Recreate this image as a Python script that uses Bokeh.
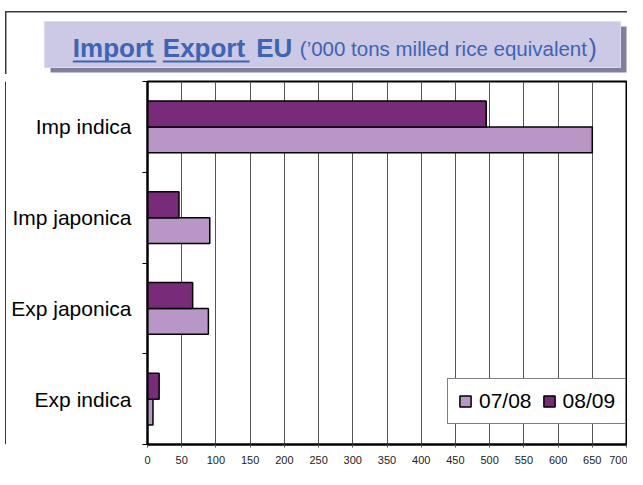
from bokeh.plotting import figure
from bokeh.layouts import column, row
from bokeh.models import Range1d, FixedTicker, Legend, LegendItem, ColumnDataSource
from bokeh.transform import dodge
from bokeh.core.properties import value
from bokeh.embed import file_html
from bokeh.resources import INLINE

# ---- data ----
categories = ["Imp indica", "Imp japonica", "Exp japonica", "Exp indica"]
series_names = ["07/08", "08/09"]
values_0708 = [650, 91, 89, 8]
values_0809 = [495, 46, 66, 17]
x_ticks = [0, 50, 100, 150, 200, 250, 300, 350, 400, 450, 500, 550, 600, 650, 700]

LIGHT = "#B896C7"
DARK = "#772B78"
TITLE_BLUE = "#3D64B5"
FRAME = "#3a3a3a"
FONT = "Liberation Sans"

W, H = 627, 469
TH = 74          # height of title strip
SW = 6           # width of left strip
TEXT_Y = 47.7    # text anchor (baseline) in title strip

# ---------------- title strip ----------------
t = figure(width=W, height=TH, output_backend="svg", toolbar_location=None,
           x_range=Range1d(0, W), y_range=Range1d(TH, 0),
           x_axis_location=None, y_axis_location=None, min_border=0)
t.outline_line_color = None
t.grid.grid_line_color = None
t.background_fill_color = "white"
t.border_fill_color = "white"
# outer frame (top + left edges)
t.quad(left=5, right=W, top=10.5, bottom=12, fill_color=FRAME, line_color=None)
t.quad(left=4.5, right=6, top=10.5, bottom=TH, fill_color=FRAME, line_color=None)
# title box with shadow
t.quad(left=50, right=626, top=26, bottom=72, fill_color="#807FA0", line_color=None)
t.quad(left=44, right=620, top=21, bottom=67, fill_color="#CBC9E3", line_color="#DCDAEE",
       line_width=1)
# underlines
t.quad(left=72.3, right=155.7, top=60, bottom=62, fill_color=TITLE_BLUE, line_color=None)
t.quad(left=162.3, right=249, top=60, bottom=62, fill_color=TITLE_BLUE, line_color=None)


def ttext(x, s, size, style):
    t.text(x=[x], y=[TEXT_Y], text=[s], text_font=value(FONT), text_font_size=size,
           text_font_style=style, text_color=TITLE_BLUE, text_baseline="alphabetic",
           text_align="left")


ttext(72.3, "Import", "26px", "bold")
ttext(162.3, "Export", "26px", "bold")
ttext(255.7, "EU", "26px", "bold")
ttext(299.3, "(\u2019000 tons milled rice equivalent", "20.5px", "normal")
ttext(588, ")", "25px", "normal")

# ---------------- left strip (outer frame line) ----------------
s = figure(width=SW, height=H - TH, output_backend="svg", toolbar_location=None,
           x_range=Range1d(0, SW), y_range=Range1d(H - TH, 0),
           x_axis_location=None, y_axis_location=None, min_border=0)
s.outline_line_color = None
s.grid.grid_line_color = None
s.background_fill_color = "white"
s.border_fill_color = "white"
s.quad(left=4.5, right=6, top=0, bottom=H - TH, fill_color=FRAME, line_color=None)

# ---------------- chart ----------------
n = len(categories)
ypos = [n - 0.5 - i for i in range(n)]
src = ColumnDataSource(dict(cat=categories, y=ypos, v0708=values_0708, v0809=values_0809))

p = figure(width=W - SW, height=H - TH, output_backend="svg", toolbar_location=None,
           x_range=Range1d(x_ticks[0], x_ticks[-1]), y_range=Range1d(0, n),
           min_border_left=147 - SW, min_border_right=1, min_border_top=81 - TH,
           min_border_bottom=25)
p.background_fill_color = "white"
p.border_fill_color = "white"
p.outline_line_color = "black"
p.outline_line_width = 2

bar_h = 0.284
r1 = p.hbar(y=dodge("y", -bar_h / 2), right="v0708", left=0, height=bar_h, source=src,
            fill_color=LIGHT, line_color="black", line_width=1.5)
r2 = p.hbar(y=dodge("y", bar_h / 2), right="v0809", left=0, height=bar_h, source=src,
            fill_color=DARK, line_color="black", line_width=1.5)

# x axis
p.xaxis.ticker = FixedTicker(ticks=x_ticks)
p.xaxis.minor_tick_line_color = None
p.xaxis.major_tick_out = 3
p.xaxis.major_tick_in = 0
p.xaxis.major_tick_line_color = "#555555"
p.xaxis.axis_line_color = "black"
p.xaxis.axis_line_width = 2
p.xaxis.major_label_text_font = FONT
p.xaxis.major_label_text_font_size = "11px"
p.xaxis.major_label_text_color = "#222222"
p.xaxis.major_label_standoff = 8

# y axis : labels at category centres, tick marks at category boundaries
p.yaxis.ticker = FixedTicker(ticks=ypos, minor_ticks=list(range(n + 1)))
p.yaxis.major_label_overrides = {y: c for y, c in zip(ypos, categories)}
p.yaxis.major_tick_line_color = None
p.yaxis.major_tick_out = 0
p.yaxis.major_tick_in = 0
p.yaxis.minor_tick_out = 5
p.yaxis.minor_tick_in = 0
p.yaxis.minor_tick_line_color = "black"
p.yaxis.axis_line_color = "black"
p.yaxis.axis_line_width = 2
p.yaxis.major_label_text_font = FONT
p.yaxis.major_label_text_font_size = "21px"
p.yaxis.major_label_text_color = "black"
p.yaxis.major_label_standoff = 11

p.xgrid.ticker = FixedTicker(ticks=x_ticks)
p.xgrid.grid_line_color = "#555555"
p.xgrid.grid_line_width = 1
p.ygrid.grid_line_color = None

legend = Legend(items=[LegendItem(label=series_names[0], renderers=[r1]),
                       LegendItem(label=series_names[1], renderers=[r2])],
                location=(300, 20), orientation="horizontal",
                label_text_font=FONT, label_text_font_size="21px",
                label_text_color="black", glyph_width=14, glyph_height=14,
                label_standoff=7, spacing=10, padding=10,
                border_line_color="black", border_line_width=1,
                background_fill_color="white", background_fill_alpha=1)
p.add_layout(legend)

layout = column(t, row(s, p, spacing=0), spacing=0)
open("out.html", "w").write(file_html(layout, INLINE))
